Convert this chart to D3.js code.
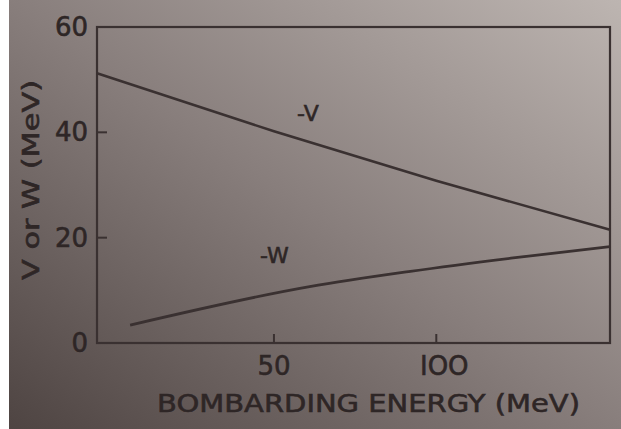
<html>
<head>
<script src="https://cdnjs.cloudflare.com/ajax/libs/d3/7.8.5/d3.min.js"></script>
<style>
    body { margin: 0; background: #fff; }
    svg { display: block; }
    .lbl { font-family: "DejaVu Sans", sans-serif; fill: #2e2626; stroke: #2e2626; stroke-width: 0.6px; }
</style>
</head>
<body>
<script>
    // values
    var energyV = [-4.5, 50, 100, 153.5];
    var valuesV = [51.2, 40.2, 30.8, 21.5];
    var energyW = [5.7, 61, 92, 123, 153.5];
    var valuesW = [3.4, 10.7, 13.6, 16.1, 18.3];
    var yTicks = [0, 20, 40, 60];
    var xTicks = [50, 100];
    var xTickLabels = ["50", "IOO"];

    var width = 621, height = 429;
    var pLeft = 97, pRight = 610, pTop = 27, pBottom = 343;
    var ink = "#3a3131";

    var svg = d3.select("body").append("svg")
        .attr("width", width)
        .attr("height", height);

    var defs = svg.append("defs");
    var grad = defs.append("linearGradient")
        .attr("id", "paper")
        .attr("x1", "100%").attr("y1", "0%")
        .attr("x2", "0%").attr("y2", "100%");
    grad.append("stop").attr("offset", "0%").attr("stop-color", "#bdb5b1");
    grad.append("stop").attr("offset", "50%").attr("stop-color", "#887e7c");
    grad.append("stop").attr("offset", "100%").attr("stop-color", "#4e4442");

    svg.append("rect")
        .attr("x", 9).attr("y", 0)
        .attr("width", width - 9).attr("height", height)
        .attr("fill", "url(#paper)");

    var x = d3.scaleLinear().domain([-4.5, 153.5]).range([pLeft, pRight]);
    var y = d3.scaleLinear().domain([0, 60]).range([pBottom, pTop]);

    // frame
    svg.append("rect")
        .attr("x", pLeft).attr("y", pTop)
        .attr("width", pRight - pLeft).attr("height", pBottom - pTop)
        .attr("fill", "none")
        .attr("stroke", ink)
        .attr("stroke-width", 2.2);

    // y ticks (inward)
    svg.selectAll(".yt").data(yTicks.filter(d => d > 0 && d < 60)).enter()
        .append("line")
        .attr("x1", pLeft).attr("x2", pLeft + 10)
        .attr("y1", d => y(d)).attr("y2", d => y(d))
        .attr("stroke", ink).attr("stroke-width", 2);

    svg.selectAll(".ytl").data(yTicks).enter()
        .append("text")
        .attr("class", "lbl")
        .attr("x", 88)
        .attr("y", d => y(d) + 9)
        .attr("text-anchor", "end")
        .attr("font-size", 26)
        .text(d => d);

    // x ticks (inward)
    svg.selectAll(".xt").data(xTicks).enter()
        .append("line")
        .attr("x1", d => x(d)).attr("x2", d => x(d))
        .attr("y1", pBottom).attr("y2", pBottom - 9)
        .attr("stroke", ink).attr("stroke-width", 2);

    svg.selectAll(".xtl").data(xTicks).enter()
        .append("text")
        .attr("class", "lbl")
        .attr("x", (d, i) => x(d) + i * 8)
        .attr("y", 375)
        .attr("text-anchor", "middle")
        .attr("font-size", 26)
        .text((d, i) => xTickLabels[i]);

    svg.append("text")
        .attr("class", "lbl")
        .attr("x", 157)
        .attr("y", 412)
        .attr("font-size", 25)
        .attr("textLength", 423)
        .attr("lengthAdjust", "spacingAndGlyphs")
        .text("BOMBARDING  ENERGY (MeV)");

    svg.append("text")
        .attr("class", "lbl")
        .attr("transform", "translate(39,180) rotate(-90)")
        .attr("text-anchor", "middle")
        .attr("font-size", 23)
        .attr("textLength", 200)
        .attr("lengthAdjust", "spacingAndGlyphs")
        .text("V  or  W  (MeV)");

    var line = d3.line()
        .x(d => x(d[0]))
        .y(d => y(d[1]));

    var curveW = d3.line()
        .x(d => x(d[0]))
        .y(d => y(d[1]))
        .curve(d3.curveMonotoneX);

    svg.append("path")
        .datum(d3.zip(energyV, valuesV))
        .attr("d", line)
        .attr("fill", "none")
        .attr("stroke", ink)
        .attr("stroke-width", 2.6);

    svg.append("path")
        .datum(d3.zip(energyW, valuesW))
        .attr("d", curveW)
        .attr("fill", "none")
        .attr("stroke", ink)
        .attr("stroke-width", 2.8);

    svg.append("text")
        .attr("class", "lbl")
        .attr("x", 297).attr("y", 121)
        .attr("font-size", 22)
        .text("-V");

    svg.append("text")
        .attr("class", "lbl")
        .attr("x", 260).attr("y", 263)
        .attr("font-size", 22)
        .text("-W");
</script>
</body>
</html>
